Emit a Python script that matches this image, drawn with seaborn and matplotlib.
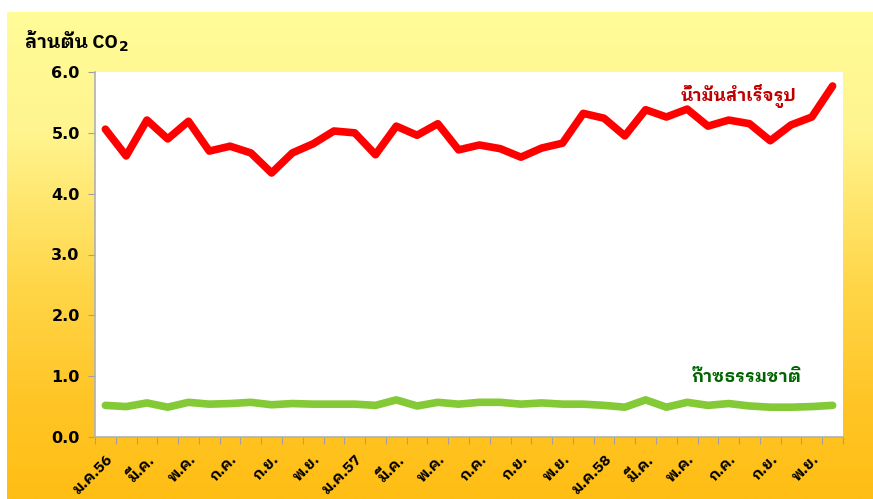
import numpy as np
import pandas as pd
import seaborn as sns
import matplotlib.pyplot as plt
from matplotlib.colors import LinearSegmentedColormap

# Datos (millones de toneladas de CO2, mensual 2556-2558)
meses = ['ม.ค.', 'ก.พ.', 'มี.ค.', 'เม.ย.', 'พ.ค.', 'มิ.ย.',
         'ก.ค.', 'ส.ค.', 'ก.ย.', 'ต.ค.', 'พ.ย.', 'ธ.ค.']
anios = ['56', '57', '58']
petroleo = [5.06, 4.62, 5.21, 4.90, 5.19, 4.70, 4.78, 4.67, 4.34, 4.67, 4.82, 5.03,
            5.00, 4.64, 5.11, 4.96, 5.15, 4.72, 4.80, 4.74, 4.60, 4.75, 4.83, 5.32,
            5.24, 4.95, 5.38, 5.26, 5.39, 5.11, 5.21, 5.15, 4.87, 5.13, 5.26, 5.77]
gas = [0.52, 0.50, 0.56, 0.49, 0.57, 0.54, 0.55, 0.57, 0.53, 0.55, 0.54, 0.54,
       0.54, 0.52, 0.61, 0.51, 0.57, 0.54, 0.57, 0.57, 0.54, 0.56, 0.54, 0.54,
       0.52, 0.49, 0.61, 0.49, 0.57, 0.52, 0.55, 0.51, 0.49, 0.49, 0.50, 0.52]
nombre_petroleo = 'น้ำมันสำเร็จรูป'
nombre_gas = 'ก๊าซธรรมชาติ'
titulo_y = 'ล้านตัน CO'

etiquetas = []
for a in anios:
    for i, m in enumerate(meses):
        etiquetas.append(m + a if i == 0 else m)

df = pd.DataFrame({'mes': np.arange(len(petroleo)), 'petroleo': petroleo, 'gas': gas})

sns.set_style('white')
plt.rcParams['font.family'] = ['IBM Plex Sans Thai Looped', 'DejaVu Sans']
plt.rcParams['text.color'] = 'black'
plt.rcParams['xtick.color'] = 'black'
plt.rcParams['ytick.color'] = 'black'

fig = plt.figure(figsize=(8.73, 4.99), dpi=100)

# Fondo degradado amarillo -> naranja
fondo = fig.add_axes([7 / 873, 0, 1 - 7 / 873, 1 - 12 / 499], zorder=-10)
grad = np.linspace(0, 1, 256).reshape(-1, 1)
cmap_fondo = LinearSegmentedColormap.from_list(
    'fondo', [(0, '#FFFC98'), (0.25, '#FFF48E'), (0.55, '#FFD74A'), (0.8, '#FFC526'), (1, '#FFBE14')])
fondo.imshow(grad, aspect='auto', cmap=cmap_fondo, extent=[0, 1, 0, 1], origin='upper')
fondo.axis('off')

ax = fig.add_axes([95 / 873, 1 - 437 / 499, (843 - 95) / 873, (437 - 72) / 499])
ax.set_facecolor('white')

sns.lineplot(data=df, x='mes', y='petroleo', ax=ax, color='#FF0000', linewidth=5.5)
sns.lineplot(data=df, x='mes', y='gas', ax=ax, color='#84C936', linewidth=5.5)

ax.set_xlim(-0.5, len(petroleo) - 0.5)
ax.set_ylim(0, 6)
ax.set_yticks(np.arange(0, 6.1, 1.0))
ax.set_yticklabels([f'{v:.1f}' for v in np.arange(0, 6.1, 1.0)],
                   fontsize=11.5, fontweight='bold', family=['DejaVu Sans'])

ax.set_xticks(np.arange(-0.5, len(petroleo), 1))
ax.set_xticklabels([])
ax.set_xticks(np.arange(0, len(petroleo), 2), minor=True)
ax.set_xticklabels(etiquetas[::2], minor=True, rotation=45, ha='right',
                   rotation_mode='anchor', fontsize=11, fontweight='bold')
ax.tick_params(axis='x', which='minor', length=0, pad=11)
ax.tick_params(axis='x', which='major', length=5, color='#A0A0A0', direction='out', bottom=True)
ax.tick_params(axis='y', length=5, color='#A0A0A0', direction='out', left=True, pad=6)

for lado in ['top', 'right']:
    ax.spines[lado].set_visible(False)
for lado in ['left', 'bottom']:
    ax.spines[lado].set_color('#B0B0B0')
    ax.spines[lado].set_linewidth(1.2)
ax.set_xlabel('')
ax.set_ylabel('')

ax.text(27.7, 5.53, nombre_petroleo, color='#C00000', fontsize=12.5, fontweight='bold')
ax.text(28.2, 0.9, nombre_gas, color='#006400', fontsize=12.5, fontweight='bold')

t = fig.text(25 / 873, 1 - 48 / 499, titulo_y, fontsize=13.5, fontweight='bold')
fig.canvas.draw()
bb = t.get_window_extent()
fig.text(bb.x1 / 873 + 0.001, bb.y0 / 499 + 0.002, '2', fontsize=10, fontweight='bold',
         family=['DejaVu Sans'])

fig.savefig('out.png', dpi=100)
